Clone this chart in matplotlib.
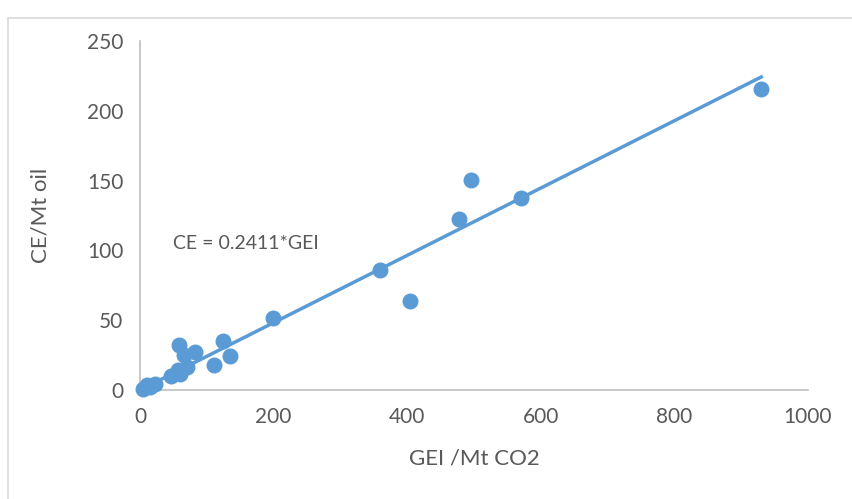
import numpy as np
import matplotlib.pyplot as plt
import matplotlib.patches as mpatches

plt.rcParams['font.family'] = ['Lato', 'DejaVu Sans']

gei = [930, 495, 478, 570, 359, 404, 199, 124, 135, 111, 82, 58, 66, 70, 60, 46, 57,
       22, 10, 4, 15]
ce = [215.6, 150.4, 122.5, 137.5, 86, 63.8, 51.6, 35, 24.4, 18, 27, 32, 25, 16.5, 11.5, 10, 14,
      4.3, 3.6, 0.7, 2]
slope = 0.2411
fit_x = [0, 930]

blue = '#5B9BD5'
grey = '#595959'

fig = plt.figure(figsize=(8.52, 4.99), dpi=100)
# chart area border (runs off the right and bottom edges)
fig.patches.append(mpatches.Rectangle((8 / 852, -0.1), 1, 1.1 - 18 / 499, transform=fig.transFigure,
                                      fill=False, edgecolor='#D9D9D9', linewidth=1.2))
ax = fig.add_axes([140 / 852, 109 / 499, 668 / 852, 349 / 499])

ax.plot(fit_x, [slope * v for v in fit_x], color=blue, linewidth=2.5, zorder=2)
ax.scatter(gei, ce, s=110, color=blue, zorder=3, clip_on=False)
ax.text(49, 104.6, 'CE = 0.2411*GEI', fontsize=14, color=grey, va='center')

ax.set_xlim(0, 1000)
ax.set_ylim(0, 250)
ax.set_xticks(range(0, 1001, 200))
ax.set_yticks(range(0, 251, 50))
ax.tick_params(length=0, labelsize=15, labelcolor=grey, pad=12)
for s in ['top', 'right']:
    ax.spines[s].set_visible(False)
for s in ['left', 'bottom']:
    ax.spines[s].set_color('#BFBFBF')
    ax.spines[s].set_linewidth(1.2)
ax.set_xlabel('GEI /Mt CO2', fontsize=16, color=grey, labelpad=16)
ax.set_ylabel('CE/Mt oil', fontsize=16, color=grey, labelpad=26)

fig.savefig('out.png', dpi=100)
